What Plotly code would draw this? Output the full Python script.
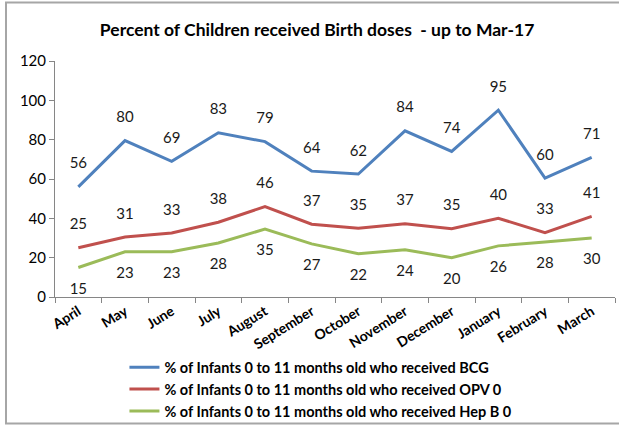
import plotly.graph_objects as go

months = ["April", "May", "June", "July", "August", "September", "October",
          "November", "December", "January", "February", "March"]
bcg = [56, 79.5, 69, 83.5, 79, 64, 62.5, 84.5, 74, 95, 60.5, 71]
opv = [25, 30.5, 32.5, 38, 46, 37, 35, 37.3, 34.7, 40, 32.7, 41]
hepb = [15, 23, 23, 27.5, 34.5, 27, 22, 24, 20, 26, 28, 30]

bcg_lbl = [56, 80, 69, 83, 79, 64, 62, 84, 74, 95, 60, 71]
opv_lbl = [25, 31, 33, 38, 46, 37, 35, 37, 35, 40, 33, 41]
hepb_lbl = [15, 23, 23, 28, 35, 27, 22, 24, 20, 26, 28, 30]

names = ["% of Infants 0 to 11 months old who received BCG",
         "% of Infants 0 to 11 months old who received OPV 0",
         "% of Infants 0 to 11 months old who received Hep B 0"]
colors = ["#4F81BD", "#C0504D", "#9BBB59"]

FONT = "Lato"

fig = go.Figure()
for vals, lbl, name, col, pos in [
    (bcg, bcg_lbl, names[0], colors[0], "top center"),
    (opv, opv_lbl, names[1], colors[1], "top center"),
    (hepb, hepb_lbl, names[2], colors[2], "bottom center"),
]:
    fig.add_trace(go.Scatter(
        x=months, y=vals, name="<b>" + name + "</b>",
        mode="lines+markers+text",
        line=dict(color=col, width=3),
        marker=dict(size=22, color="rgba(0,0,0,0)"),
        text=[str(v) for v in lbl], textposition=pos,
        textfont=dict(family=FONT, size=15, color="#1a1a1a"),
        hoverinfo="x+y",
    ))

fig.update_layout(
    width=619, height=425,
    margin=dict(l=55, r=4, t=61, b=128, autoexpand=False),
    paper_bgcolor="white", plot_bgcolor="white",
    font=dict(family=FONT, color="#000000"),
    title=dict(text="<b>Percent of Children received Birth doses  - up to Mar-17</b>",
               x=0.468, xref="paper", xanchor="center", y=0.93, yanchor="middle",
               font=dict(family=FONT, size=17.5, color="#000000")),
    xaxis=dict(
        automargin=False, range=[-0.5, len(months) - 0.5],
        showgrid=False, showline=True, linecolor="#868686", linewidth=1,
        ticks="outside", ticklen=5, tickcolor="#868686", tickson="boundaries",
        tickangle=-32, tickfont=dict(family=FONT, size=14, color="#000000"),
        tickprefix="<b>", ticksuffix="</b>",
    ),
    yaxis=dict(
        automargin=False,
        range=[0, 120], dtick=20, showgrid=False, zeroline=False,
        showline=True, linecolor="#868686", linewidth=1,
        ticks="outside", ticklen=5, tickcolor="#868686",
        tickfont=dict(family=FONT, size=15, color="#000000"),
    ),
    legend=dict(
        orientation="v", x=0.124, xanchor="left", y=-0.23, yanchor="top",
        font=dict(family=FONT, size=14.5, color="#000000"),
        tracegroupgap=0, itemwidth=30, bgcolor="rgba(0,0,0,0)",
    ),
    showlegend=True,
)

# chart-area frame: left, top and bottom edges (right edge is off the crop)
fx0 = (6 - 55) / 560
fx1 = (619 - 55) / 560
fy0 = (297 - 423.5) / 236
fy1 = (297 - 2.5) / 236
fig.add_shape(type="path", xref="paper", yref="paper",
              path=f"M {fx1},{fy0} L {fx0},{fy0} L {fx0},{fy1} L {fx1},{fy1}",
              line=dict(color="#A6A6A6", width=2), layer="below")

fig.write_html("out.html", config={"displayModeBar": False},
               post_script="document.body.style.margin='0';")
